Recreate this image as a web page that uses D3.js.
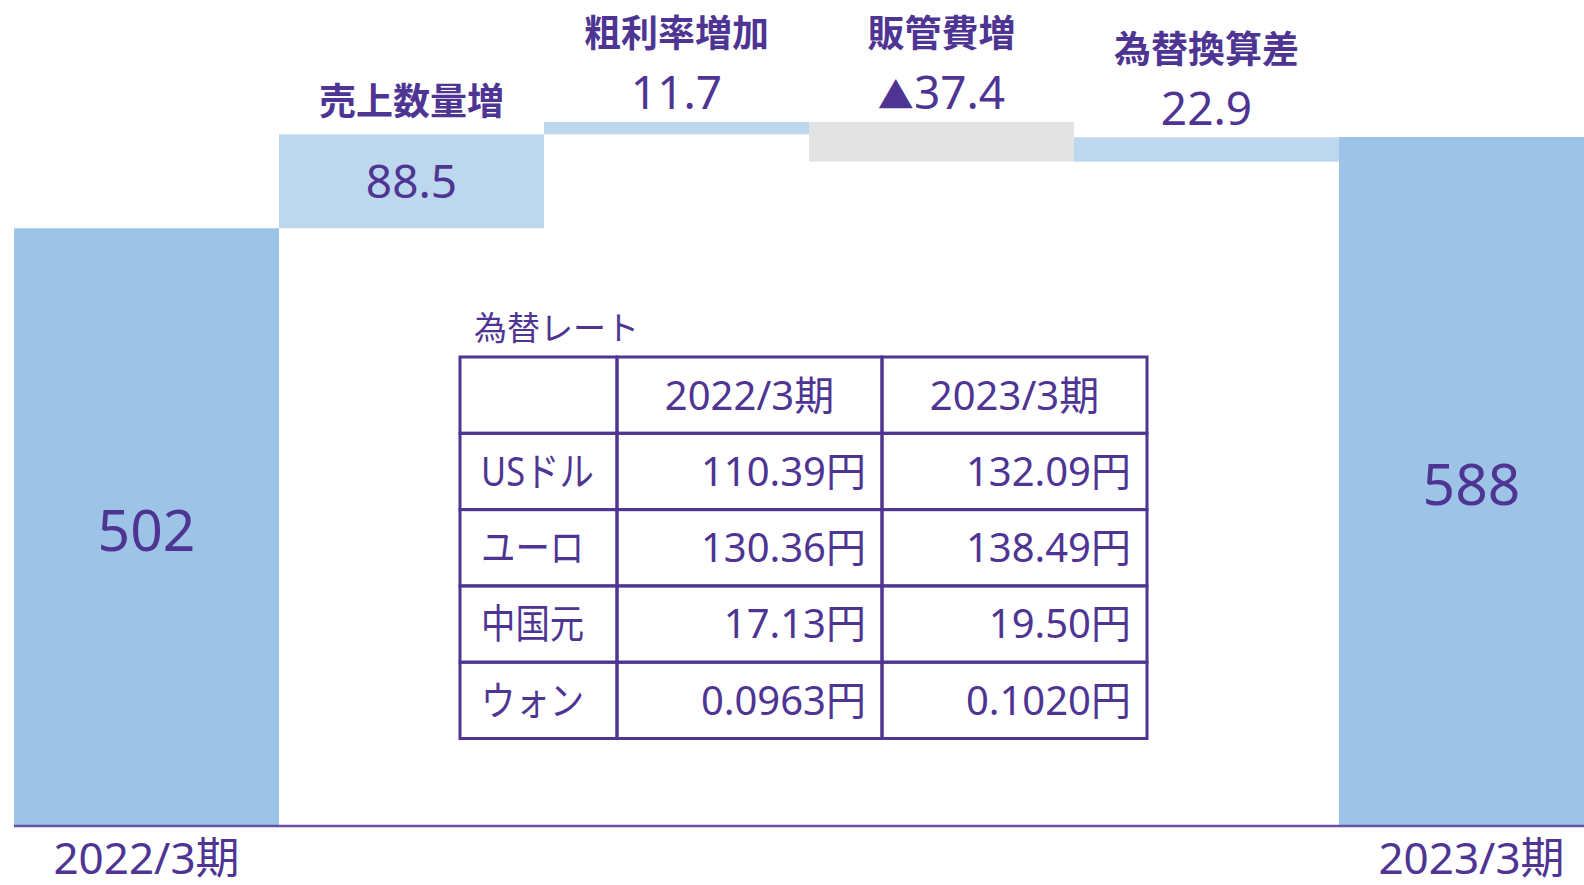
<!DOCTYPE html>
<html><head><meta charset="utf-8">
<script src="https://cdn.jsdelivr.net/npm/d3@7"></script>
<style>body{margin:0;background:#fff;overflow:hidden} svg{display:block}</style>
</head><body><svg id="c" width="1584" height="885"></svg>
<script>
// ---- data ----
const categories = ["2022/3期", "売上数量増", "粗利率増加", "販管費増", "為替換算差", "2023/3期"];
const values = [502, 88.5, 11.7, -37.4, 22.9, 588];
const kinds = ["total", "inc", "inc", "dec", "inc", "total"];
const valueLabels = ["502", "88.5", "11.7", "▲37.4", "22.9", "588"];

const rateTitle = "為替レート";
const rateHeaders = ["", "2022/3期", "2023/3期"];
const currencies = ["USドル", "ユーロ", "中国元", "ウォン"];
const rates2022 = ["110.39円", "130.36円", "17.13円", "0.0963円"];
const rates2023 = ["132.09円", "138.49円", "19.50円", "0.1020円"];

// ---- styling ----
const W = 1584, H = 885;
const FONT = "'Noto Sans', 'Noto Sans CJK JP', sans-serif";
const PURPLE = "#4f3593";
const colors = {total: "#9dc3e6", inc: "#bdd7ee", dec: "#e3e3e3"};

const svg = d3.select("#c");

const x = d3.scaleBand().domain(categories).range([14, 1604]).padding(0);
const y = d3.scaleLinear().domain([-61, 717]).range([826, 0]);

// waterfall computation
let running = 0;
const bars = categories.map((c, i) => {
  let start, end;
  if (kinds[i] === "total") { start = y.domain()[0]; end = values[i]; running = values[i]; }
  else { start = running; end = running + values[i]; running = end; }
  return {cat: c, kind: kinds[i], start, end, label: valueLabels[i]};
});

svg.append("g").selectAll("rect").data(bars).join("rect")
  .attr("x", d => x(d.cat))
  .attr("width", x.bandwidth())
  .attr("y", d => y(Math.max(d.start, d.end)))
  .attr("height", d => Math.abs(y(d.start) - y(d.end)))
  .attr("fill", d => colors[d.kind]);

// baseline
svg.append("line").attr("x1", 14).attr("x2", W).attr("y1", y(y.domain()[0])).attr("y2", y(y.domain()[0]))
  .attr("stroke", "#6650a8").attr("stroke-width", 2.5);

// value + name labels
const lbl = svg.append("g").attr("font-family", FONT).attr("fill", PURPLE).attr("text-anchor", "middle");
bars.forEach((d, i) => {
  const cx = x(d.cat) + x.bandwidth() / 2;
  const top = y(Math.max(d.start, d.end)), bot = y(Math.min(d.start, d.end));
  if (d.kind === "total") {
    lbl.append("text").attr("x", cx).attr("y", (top + bot) / 2 + 3).attr("dy", "0.36em")
      .attr("font-size", 57).text(d.label);
    lbl.append("text").attr("x", cx).attr("y", y(y.domain()[0]) + 32).attr("dy", "0.36em")
      .attr("font-size", 44).text(d.cat);
  } else {
    const inside = (bot - top) > 60;
    const vy = inside ? (top + bot) / 2 : top - 29;
    const t = lbl.append("text").attr("x", cx).attr("y", vy).attr("dy", "0.36em").attr("font-size", 46);
    if (d.label.startsWith("▲")) {
      t.append("tspan").attr("font-size", 36).text("▲");
      t.append("tspan").text(d.label.slice(1));
    } else t.text(d.label);
    const ny = inside ? top - 33 : vy - 59;
    lbl.append("text").attr("x", cx).attr("y", ny).attr("dy", "0.36em")
      .attr("font-size", 37).attr("font-weight", "bold").text(d.cat);
  }
});

// ---- exchange rate table ----
const tx = d3.scaleOrdinal().domain([0, 1, 2]).range([460, 617, 882]);
const colW = [157, 265, 265];
const rowsAll = [rateHeaders].concat(currencies.map((c, i) => [c, rates2022[i], rates2023[i]]));
const ty = d3.scaleBand().domain(d3.range(rowsAll.length)).range([357, 738.5]).padding(0);

const tg = svg.append("g").attr("font-family", FONT).attr("fill", PURPLE);
tg.append("text").attr("x", 474).attr("y", 328).attr("dy", "0.36em").attr("font-size", 33).text(rateTitle);

rowsAll.forEach((row, r) => {
  row.forEach((txt, c) => {
    tg.append("rect").attr("x", tx(c)).attr("y", ty(r)).attr("width", colW[c]).attr("height", ty.bandwidth())
      .attr("fill", "none").attr("stroke", PURPLE).attr("stroke-width", 3);
    if (!txt) return;
    const cy = ty(r) + ty.bandwidth() / 2;
    if (r > 0 && c === 0) {
      tg.append("text").attr("transform", `translate(${tx(c) + 21},${cy}) scale(0.86,1)`)
        .attr("dy", "0.36em").attr("text-anchor", "start").attr("font-size", 40).text(txt);
      return;
    }
    let ax, anchor;
    if (r === 0) { ax = tx(c) + colW[c] / 2; anchor = "middle"; }
    else { ax = tx(c) + colW[c] - 16; anchor = "end"; }
    tg.append("text").attr("x", ax).attr("y", cy).attr("dy", "0.36em")
      .attr("text-anchor", anchor).attr("font-size", 40).text(txt);
  });
});
</script></body></html>
